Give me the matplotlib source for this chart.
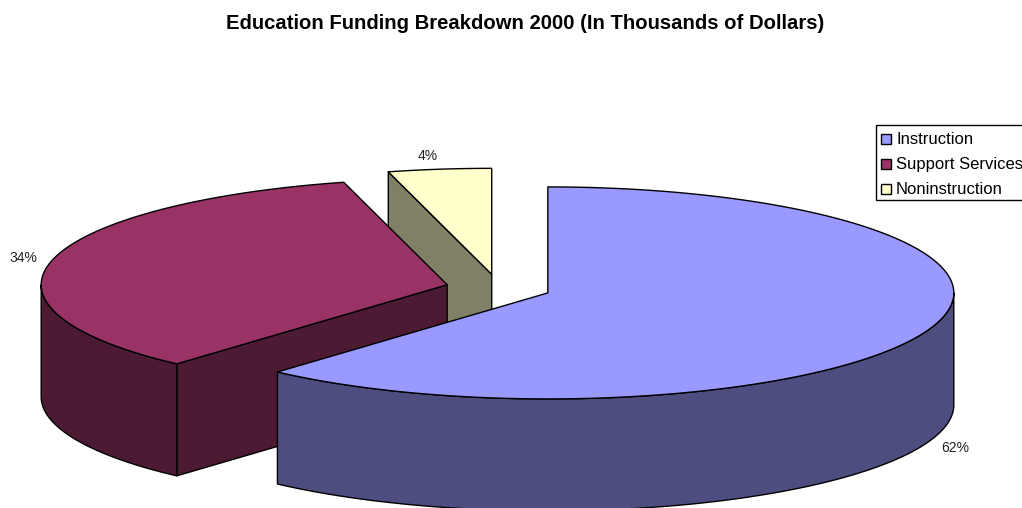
import matplotlib
matplotlib.use('Agg')
import matplotlib.pyplot as plt
from matplotlib.patches import Polygon, Rectangle
import numpy as np

plt.rcParams['font.family'] = ['Liberation Sans', 'DejaVu Sans']

title = 'Education Funding Breakdown 2000 (In Thousands of Dollars)'
categories = ['Instruction', 'Support Services', 'Noninstruction']
values = [61.6, 34.3, 4.1]  # read from the slice edges, labels round them
top_colors = ['#9999FF', '#993366', '#FFFFCC']
side_colors = ['#4D4D80', '#4D1A33', '#808066']

W, H = 1022, 508
cx, cy = 498.5, 288     # pie centre before exploding, in pixels
rx, ry = 406, 106
depth = 112
explode = 0.13

fractions = np.array(values) / np.sum(values)
edges = np.concatenate([[0], np.cumsum(fractions)]) * 2 * np.pi


def point(theta, c):
    # angle runs clockwise from 12 o'clock
    return c[0] + rx * np.sin(theta), c[1] - ry * np.cos(theta)


def arc(a, b, c):
    t = np.linspace(a, b, 200)
    return np.column_stack(point(t, c))


fig = plt.figure(figsize=(W / 100, H / 100), dpi=100)
ax = fig.add_axes([0, 0, 1, 1])
ax.set_xlim(0, W)
ax.set_ylim(H, 0)
ax.axis('off')

centres = []
for i in range(len(values)):
    mid = (edges[i] + edges[i + 1]) / 2
    centres.append((cx + explode * rx * np.sin(mid), cy - explode * ry * np.cos(mid)))

z = 1
# back to front: small slice first, big one last
for i in [2, 1, 0]:
    a, b = edges[i], edges[i + 1]
    c = centres[i]
    edge = dict(edgecolor='black', linewidth=1.0, joinstyle='round')

    # flat wall on the slice's starting edge, the blue one faces away
    if i > 0:
        p = np.array(point(a, c))
        wall = [c, p, (p[0], p[1] + depth), (c[0], c[1] + depth)]
        ax.add_patch(Polygon(wall, closed=True, facecolor=side_colors[i], zorder=z, **edge))
        z += 1

    # outer rim, lower half of the ellipse only
    lo, hi = max(a, np.pi / 2), min(b, 3 * np.pi / 2)
    if lo < hi:
        rim = arc(lo, hi, c)
        low = rim + [0, depth]
        ax.add_patch(Polygon(np.vstack([rim, low[::-1]]), closed=True,
                             facecolor=side_colors[i], zorder=z, **edge))
        z += 1

    top = np.vstack([[c], arc(a, b, c)])
    ax.add_patch(Polygon(top, closed=True, facecolor=top_colors[i], zorder=z, **edge))
    z += 1

ax.text(525.5, 23.5, title, ha='center', va='center', fontsize=14.55, fontweight='bold', color='black')

# percent labels
label_pos = [(955, 448), (23, 258), (428, 156)]
for v, (x, y) in zip(values, label_pos):
    ax.text(x, y, '%d%%' % round(v), ha='center', va='center', fontsize=10, color='#222222', zorder=50)

# legend box runs off the right edge
ax.add_patch(Rectangle((876, 124.5), 160, 75, facecolor='white', edgecolor='black',
                       linewidth=1, zorder=60))
for i, name in enumerate(categories):
    y = 138.5 + 25 * i
    ax.add_patch(Rectangle((881, y - 5), 10, 10, facecolor=top_colors[i], edgecolor='black',
                           linewidth=1, zorder=61))
    ax.text(896, y + 0.5, name, ha='left', va='center', fontsize=12, color='black', zorder=61)

fig.savefig('out.png', dpi=100)
